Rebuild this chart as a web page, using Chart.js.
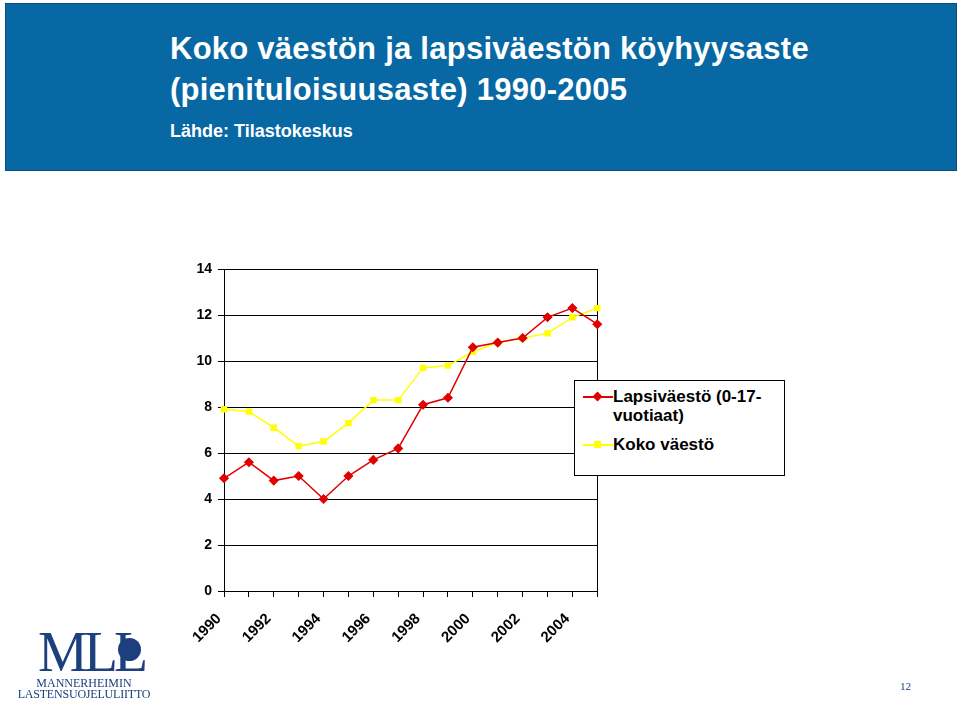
<!DOCTYPE html>
<html>
<head>
<meta charset="utf-8">
<script src="https://cdn.jsdelivr.net/npm/chart.js@4"></script>
<style>
  body { margin: 0; width: 960px; height: 703px; background: #fff; position: relative; overflow: hidden; font-family: "Liberation Sans", Arial, sans-serif; }
  #header { position: absolute; left: 5px; top: 3px; width: 950px; height: 166px; background: #0868a4; border: 1px solid #0a4f7c; }
  #title { position: absolute; left: 170px; top: 28px; color: #fff; font-weight: bold; font-size: 31px; line-height: 41px; letter-spacing: 0.25px; }
  #source { position: absolute; left: 170px; top: 121px; color: #fff; font-weight: bold; font-size: 18px; }
  #chartBox { position: absolute; left: 150px; top: 250px; width: 473px; height: 415px; }
  #legend { position: absolute; left: 574px; top: 380px; width: 209px; height: 94px; border: 1px solid #000; background: #fff; }
  .item { position: absolute; left: 8px; font-weight: bold; font-size: 17px; line-height: 19px; color: #000; }
  .item .sym { position: absolute; left: 0; top: 9px; width: 30px; height: 2px; }
  .item .mk { position: absolute; left: 11px; top: 6px; width: 7px; height: 7px; }
  .item .txt { position: absolute; left: 30px; top: 0; width: 170px; }
  #logo { position: absolute; left: 14px; top: 626px; width: 140px; height: 74px; color: #1c3f7d; font-family: "Liberation Serif", "DejaVu Serif", serif; }
  #logo .mll { position: absolute; left: 24px; top: -6px; font-size: 56px; letter-spacing: -4px; }
  #logo .emb { position: absolute; left: 104px; top: 12px; width: 23px; height: 23px; border-radius: 50%; background: #1c3f7d; }
  #logo .l1 { position: absolute; left: 0; width: 140px; top: 50px; text-align: center; font-size: 12px; }
  #logo .l2 { position: absolute; left: -4px; width: 148px; top: 61px; text-align: center; font-size: 12px; letter-spacing: -0.2px; }
  #page { position: absolute; left: 900px; top: 680px; font-family: "Liberation Serif", serif; font-size: 11px; color: #23407a; }
</style>
</head>
<body>
<div id="header">
</div>
<div id="title">Koko väestön ja lapsiväestön köyhyysaste<br>(pienituloisuusaste) 1990-2005</div>
<div id="source">Lähde: Tilastokeskus</div>
<div id="chartBox"><canvas id="c"></canvas></div>
<div id="legend"></div>
<div id="logo">
  <div class="mll">MLL</div>
  <div class="emb"></div>
  <div class="l1">MANNERHEIMIN</div>
  <div class="l2">LASTENSUOJELULIITTO</div>
</div>
<div id="page">12</div>
<script>
// vuodet
const years = ['1990', '1991', '1992', '1993', '1994', '1995', '1996', '1997',
  '1998', '1999', '2000', '2001', '2002', '2003', '2004', '2005'];

// Lapsiväestö (0-17-vuotiaat)
const childRate = [4.9, 5.6, 4.8, 5.0, 4.0, 5.0, 5.7, 6.2,
  8.1, 8.4, 10.6, 10.8, 11.0, 11.9, 12.3, 11.6];

// Koko väestö
const totalRate = [7.9, 7.8, 7.1, 6.3, 6.5, 7.3, 8.3, 8.3,
  9.7, 9.8, 10.4, 10.8, 11.0, 11.2, 11.9, 12.3];

const yTicks = [0, 2, 4, 6, 8, 10, 12, 14];

const red = '#e00000';
const yellow = '#ffff00';

const datasets = [
  {
    label: 'Lapsiväestö (0-17-vuotiaat)',
    data: childRate,
    borderColor: red,
    backgroundColor: red,
    pointStyle: 'rectRot',
    pointRadius: 4,
    borderWidth: 1.5,
    tension: 0,
  },
  {
    label: 'Koko väestö',
    data: totalRate,
    borderColor: yellow,
    backgroundColor: yellow,
    pointStyle: 'rect',
    pointRadius: 3.5,
    borderWidth: 1.5,
    tension: 0,
  }
];

new Chart(document.getElementById('c'), {
  type: 'line',
  data: { labels: years, datasets: datasets },
  options: {
    responsive: true,
    maintainAspectRatio: false,
    animation: false,
    layout: { padding: { top: 19, right: 20, left: 0, bottom: 0 } },
    plugins: {
      legend: { display: false },
      tooltip: { enabled: false }
    },
    scales: {
      x: {
        offset: false,
        afterFit: (s) => { s.height = 74; },
        border: { color: '#000', width: 1 },
        grid: {
          color: (ctx) => ctx.index === years.length - 1 ? '#000' : 'rgba(0,0,0,0)',
          tickColor: '#000',
          tickLength: 6,
          lineWidth: 1
        },
        ticks: {
          autoSkip: false,
          minRotation: 45,
          maxRotation: 45,
          padding: 13,
          labelOffset: -5,
          color: '#000',
          font: { family: 'Liberation Sans', size: 15, weight: 'bold' },
          callback: (v, i) => i % 2 === 0 ? years[i] : ''
        }
      },
      y: {
        min: 0,
        max: 14,
        afterFit: (s) => { s.width = 74; },
        afterBuildTicks: (s) => { s.ticks = yTicks.map(v => ({ value: v })); },
        border: { color: '#000', width: 1 },
        grid: { color: '#000', tickColor: '#000', tickLength: 6, lineWidth: 1 },
        ticks: {
          color: '#000',
          padding: 6,
          font: { family: 'Liberation Sans', size: 14, weight: 'bold' }
        }
      }
    }
  }
});

// selite
const legend = document.getElementById('legend');
const tops = [6, 54];
datasets.forEach((d, i) => {
  const item = document.createElement('div');
  item.className = 'item';
  item.style.top = tops[i] + 'px';
  const sym = document.createElement('div');
  sym.className = 'sym';
  sym.style.background = d.borderColor;
  const mk = document.createElement('div');
  mk.className = 'mk';
  mk.style.background = d.borderColor;
  if (d.pointStyle === 'rectRot') mk.style.transform = 'rotate(45deg)';
  const txt = document.createElement('div');
  txt.className = 'txt';
  txt.textContent = d.label;
  item.appendChild(sym);
  item.appendChild(mk);
  item.appendChild(txt);
  legend.appendChild(item);
});
</script>
</body>
</html>
